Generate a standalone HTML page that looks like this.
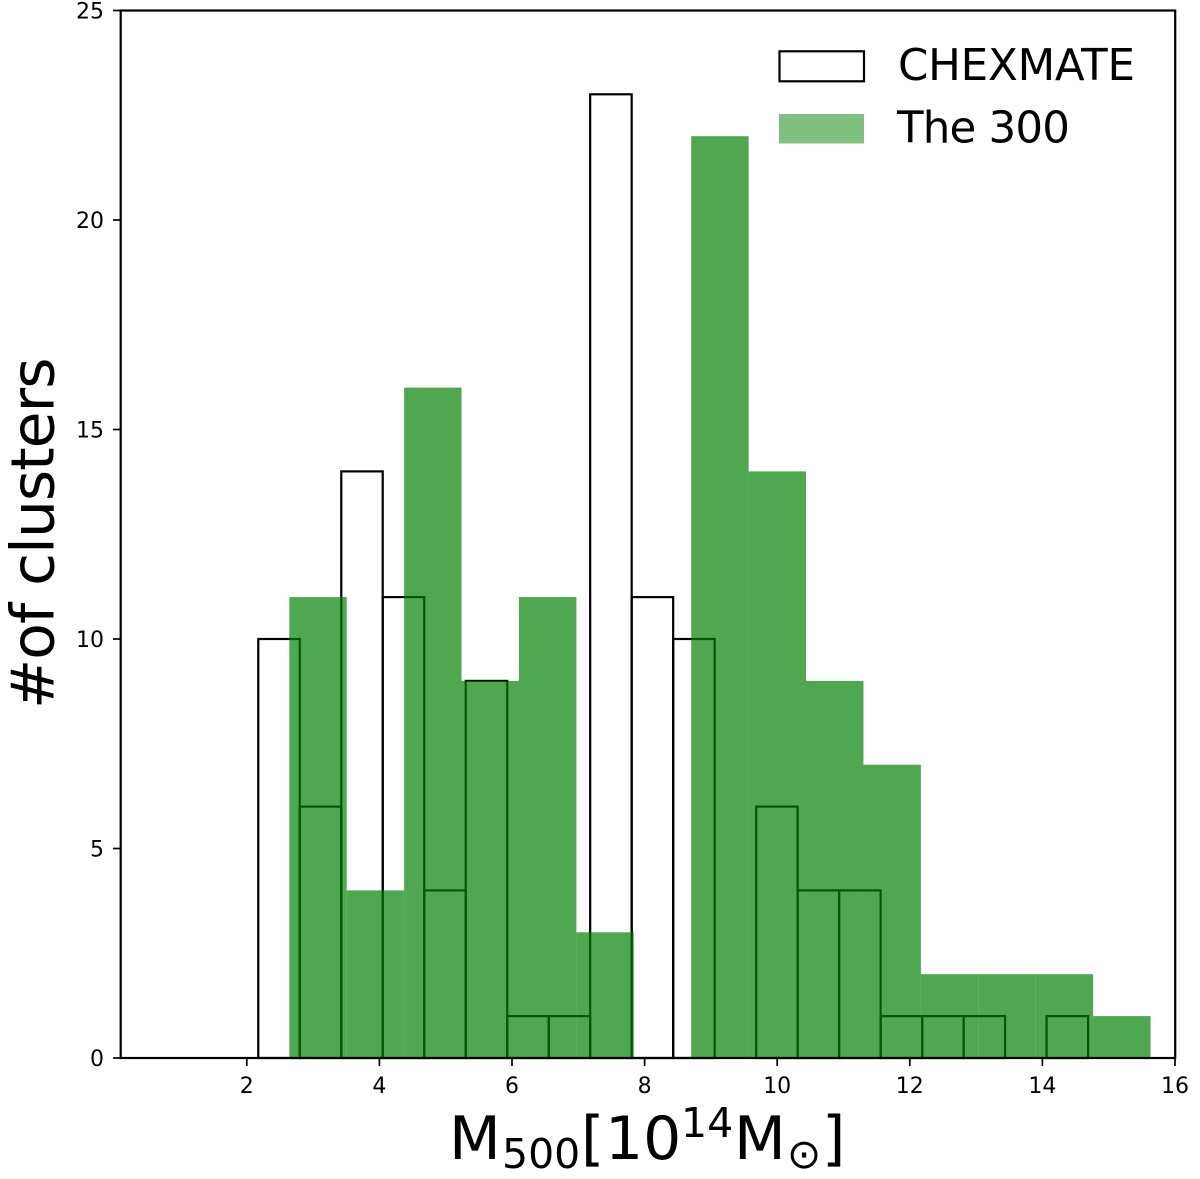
<!DOCTYPE html>
<html lang="en">
<head>
<meta charset="utf-8">
<title>Cluster mass histogram</title>
<style>
html,body{margin:0;padding:0;background:#fff;}
svg{display:block;}
text{font-family:"DejaVu Sans",sans-serif;fill:#000;}
</style>
</head>
<body>
<svg id="chart" xmlns="http://www.w3.org/2000/svg" width="1200" height="1179" viewBox="0 0 1200 1179">
<g id="chexmate-bars"></g>
<g id="the300-bars"></g>
<g id="ticks"></g>
<rect x="120.7" y="10.5" width="1054.5" height="1047.5" fill="none" stroke="#000" stroke-width="2.2"/>
<g>
<rect x="779.5" y="51.3" width="84.5" height="30" fill="none" stroke="#000" stroke-width="2.2"/>
<text x="898" y="80" font-size="43.5" letter-spacing="-0.2">CHEXMATE</text>
<rect x="779" y="114" width="85" height="29.5" fill="#008000" fill-opacity="0.5"/>
<text x="897" y="142.6" font-size="43.5" letter-spacing="-0.8">The 300</text>
</g>
<text transform="translate(53.5,709) rotate(-90)" font-size="60" letter-spacing="-1">#of clusters</text>
<g>
<text x="449" y="1159" font-size="60">M</text>
<text x="502" y="1168" font-size="41">500</text>
<text x="581" y="1159" font-size="60">[</text>
<text x="605" y="1159" font-size="60">10</text>
<text x="681" y="1137" font-size="41">14</text>
<text x="734" y="1159" font-size="60">M</text>
<text x="787" y="1168" font-size="41">⊙</text>
<text x="822" y="1159" font-size="60">]</text>
</g>
</svg>
<script>
const chexmateEdges = [2.173, 2.799, 3.425, 4.050, 4.676, 5.302, 5.928, 6.554, 7.179, 7.805, 8.431, 9.057, 9.683, 10.308, 10.934, 11.560, 12.186, 12.812, 13.437, 14.063, 14.689];
const chexmateCounts = [10, 6, 14, 11, 4, 9, 1, 1, 23, 11, 10, 0, 6, 4, 4, 1, 1, 1, 0, 1];
const the300Edges = [2.641, 3.507, 4.373, 5.239, 6.105, 6.971, 7.837, 8.703, 9.569, 10.435, 11.301, 12.167, 13.033, 13.899, 14.765, 15.631];
const the300Counts = [11, 4, 16, 9, 11, 3, 0, 22, 14, 9, 7, 2, 2, 2, 1];
const xTickValues = [2, 4, 6, 8, 10, 12, 14, 16];
const yTickValues = [0, 5, 10, 15, 20, 25];

const NS = 'http://www.w3.org/2000/svg';
const xScale = v => 246.8 + (v - 2) * 66.3;
const yScale = v => 1058 - v * 41.9;

function make(tag, attrs, parent) {
  const el = document.createElementNS(NS, tag);
  for (const k in attrs) el.setAttribute(k, attrs[k]);
  parent.appendChild(el);
  return el;
}

const chexGroup = document.getElementById('chexmate-bars');
chexmateCounts.forEach((c, i) => {
  const x0 = xScale(chexmateEdges[i]), x1 = xScale(chexmateEdges[i + 1]), y = yScale(c);
  const el = make('rect', {x: x0, y: y, width: x1 - x0, height: yScale(0) - y, fill: 'none', stroke: '#000', 'stroke-width': 2.2}, chexGroup);
  
  
});

const greenGroup = document.getElementById('the300-bars');
the300Counts.forEach((c, i) => {
  if (c === 0) return;
  const x0 = xScale(the300Edges[i]), x1 = xScale(the300Edges[i + 1]), y = yScale(c);
  const el = make('rect', {x: x0, y: y, width: x1 - x0, height: yScale(0) - y, fill: '#008000', 'fill-opacity': 0.69}, greenGroup);
  
  
});

const tickGroup = document.getElementById('ticks');
xTickValues.forEach(v => {
  const x = xScale(v);
  const line = make('line', {x1: x, x2: x, y1: 1058, y2: 1066, stroke: '#000', 'stroke-width': 1.7}, tickGroup);
  
  
  const label = make('text', {x: x, y: 1093, 'font-size': 22, 'text-anchor': 'middle'}, tickGroup);
  label.textContent = v;
  
  
});
yTickValues.forEach(v => {
  const y = yScale(v);
  const line = make('line', {x1: 113, x2: 120.7, y1: y, y2: y, stroke: '#000', 'stroke-width': 1.7}, tickGroup);
  
  
  const label = make('text', {x: 104, y: y + 8, 'font-size': 22, 'text-anchor': 'end'}, tickGroup);
  label.textContent = v;
  
  
});
</script>
</body>
</html>
